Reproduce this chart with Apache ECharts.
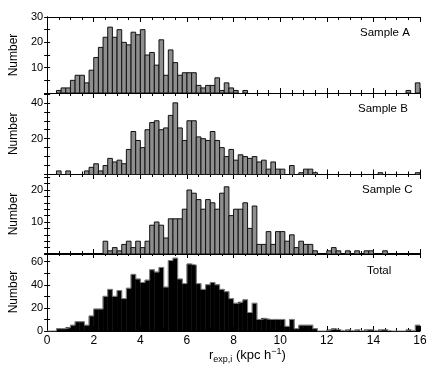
<!DOCTYPE html>
<html>
<head>
<meta charset="utf-8">
<script src="https://cdn.jsdelivr.net/npm/echarts@6/dist/echarts.min.js"></script>
<style>
  html, body { margin: 0; padding: 0; background: #fff; }
  #chart { width: 436px; height: 372px; }
</style>
</head>
<body>
<div id="chart"></div>
<script>
// 80 bins, 0.2 wide, from 0 to 16
var binWidth = 0.2;

var sampleA = [0, 0, 1, 2, 2, 5, 7, 7, 4, 9,
  14, 18, 22, 26, 22, 25, 20, 19, 24, 23,
  25, 15, 16, 11, 21, 7, 17, 12, 7, 8,
  8, 8, 3, 2, 3, 3, 6, 1, 4, 2,
  1, 0, 1, 0, 0, 0, 0, 0, 0, 0,
  0, 0, 0, 0, 0, 0, 0, 0, 0, 0,
  0, 0, 0, 0, 0, 0, 0, 0, 0, 0,
  0, 0, 0, 0, 0, 0, 0, 1, 0, 4];

var sampleB = [0, 0, 2, 0, 2, 0, 0, 0, 2, 4,
  6, 2, 5, 9, 7, 8, 6, 14, 24, 19,
  15, 25, 29, 30, 25, 26, 33, 40, 26, 19,
  30, 30, 21, 20, 19, 24, 19, 15, 10, 14,
  8, 11, 10, 9, 10, 7, 8, 3, 7, 3,
  3, 0, 5, 0, 1, 3, 3, 1, 0, 0,
  0, 0, 0, 0, 0, 0, 0, 0, 0, 0,
  0, 1, 0, 0, 0, 0, 0, 0, 0, 1];

var sampleC = [0, 0, 0, 0, 0, 0, 0, 0, 0, 0,
  0, 0, 4, 1, 2, 1, 3, 4, 2, 4,
  2, 4, 9, 10, 9, 5, 11, 11, 11, 14,
  20, 19, 17, 14, 17, 16, 14, 19, 21, 12,
  14, 14, 16, 8, 15, 3, 3, 7, 3, 7,
  7, 4, 6, 2, 4, 3, 3, 1, 0, 0,
  1, 2, 1, 0, 1, 0, 1, 0, 1, 1,
  0, 0, 1, 0, 0, 0, 0, 0, 0, 0];

var total = [0, 0, 2, 2, 3, 5, 8, 8, 5, 13,
  19, 19, 30, 36, 30, 35, 28, 37, 49, 45,
  42, 44, 53, 51, 55, 38, 61, 63, 45, 41,
  58, 57, 41, 36, 40, 42, 40, 36, 34, 28,
  24, 25, 27, 16, 24, 10, 11, 10, 10, 10,
  10, 4, 10, 2, 5, 5, 5, 2, 0, 0,
  1, 2, 1, 0, 1, 0, 1, 0, 1, 1,
  0, 1, 1, 0, 0, 0, 0, 1, 0, 5];

var xTickLabels = [0, 2, 4, 6, 8, 10, 12, 14, 16];
var yLabelsA = [10, 20, 30];
var yLabelsB = [20, 40];
var yLabelsC = [10, 20];
var yLabelsTotal = [0, 20, 40, 60];

var panels = [
  { title: 'Sample A', values: sampleA, labels: yLabelsA, top: 17, height: 76, max: 30, step: 5, titleX: 360, titleY: 28 },
  { title: 'Sample B', values: sampleB, labels: yLabelsB, top: 93, height: 81.5, max: 45.5, step: 5, titleX: 358, titleY: 104 },
  { title: 'Sample C', values: sampleC, labels: yLabelsC, top: 174, height: 80, max: 25, step: 2, titleX: 362, titleY: 185 },
  { title: 'Total', values: total, labels: yLabelsTotal, top: 253, height: 78, max: 67.5, step: 10, titleX: 367, titleY: 266 }
];

var font = 'Liberation Sans, Arial, Helvetica, sans-serif';

function binData(values) {
  var out = [];
  values.forEach(function (v, i) {
    if (v > 0) out.push([i * binWidth, (i + 1) * binWidth, v]);
  });
  return out;
}

function stepData(values) {
  var out = values.map(function (v, i) { return [i * binWidth, v]; });
  out.push([values.length * binWidth, values[values.length - 1]]);
  return out;
}

function renderBar(params, api) {
  var p0 = api.coord([api.value(0), api.value(2)]);
  var p1 = api.coord([api.value(1), 0]);
  return {
    type: 'rect',
    shape: { x: p0[0], y: p0[1], width: p1[0] - p0[0], height: p1[1] - p0[1] },
    style: api.style()
  };
}

var grids = [], xAxes = [], yAxes = [], series = [], titles = [];

panels.forEach(function (p, i) {
  var last = i === panels.length - 1;
  grids.push({ left: 45, width: 375, top: p.top, height: p.height });

  // bottom and top x axes
  [['bottom', last], ['top', false]].forEach(function (a) {
    xAxes.push({
      type: 'value', gridIndex: i, position: a[0], min: 0, max: 16, interval: 2,
      axisLine: { show: true, onZero: false, lineStyle: { color: '#000', width: 1 } },
      axisTick: { show: true, inside: true, length: 5, lineStyle: { color: '#000' } },
      minorTick: { show: true, splitNumber: 4, length: 3, lineStyle: { color: '#000' } },
      splitLine: { show: false },
      axisLabel: {
        show: a[1], margin: 4, color: '#000', fontSize: 12, fontFamily: font,
        formatter: function (v) { return xTickLabels.indexOf(v) >= 0 ? String(v) : ''; }
      }
    });
  });

  // left and right y axes
  [['left', true], ['right', false]].forEach(function (a) {
    yAxes.push({
      type: 'value', gridIndex: i, position: a[0], min: 0, max: p.max, interval: p.step,
      name: a[1] ? 'Number' : '', nameLocation: 'middle', nameGap: 19,
      nameTextStyle: { color: '#000', fontSize: 12, fontFamily: font },
      axisLine: { show: true, lineStyle: { color: '#000', width: 1 } },
      axisTick: { show: true, inside: true, length: 3, lineStyle: { color: '#000' } },
      splitLine: { show: false },
      axisLabel: {
        show: a[1], margin: 4, color: '#000', fontSize: 11, fontFamily: font,
        showMinLabel: true, showMaxLabel: true,
        formatter: function (v) { return p.labels.indexOf(v) >= 0 ? String(v) : ''; }
      }
    });
  });

  series.push({
    type: 'custom', name: p.title, xAxisIndex: i * 2, yAxisIndex: i * 2,
    renderItem: renderBar, data: binData(p.values), clip: true,
    itemStyle: last
      ? { color: '#000', borderColor: '#000', borderWidth: 0.5 }
      : { color: '#8e8e8e', borderColor: '#111', borderWidth: 1 },
    encode: { x: [0, 1], y: 2 }
  });

  if (last) {
    series.push({
      type: 'line', xAxisIndex: i * 2, yAxisIndex: i * 2, step: 'end',
      data: stepData(p.values), symbol: 'none', silent: true,
      lineStyle: { color: '#808080', width: 1 }
    });
  }

  titles.push({
    text: p.title, left: p.titleX, top: p.titleY - 1, padding: 0,
    textStyle: { color: '#000', fontSize: 11.5, fontWeight: 'normal', fontFamily: font }
  });
});

var chart = echarts.init(document.getElementById('chart'), null, { renderer: 'canvas' });
chart.setOption({
  animation: false,
  backgroundColor: '#fff',
  title: titles,
  grid: grids,
  xAxis: xAxes,
  yAxis: yAxes,
  series: series,
  graphic: [{
    type: 'text', left: 209, top: 347,
    style: {
      text: '{r|r}{sub|exp,i}{n| (kpc h}{sup|−1}{n|)}',
      rich: {
        r: { fontSize: 13, fontFamily: font, fill: '#000', padding: [2, 0, 0, 0] },
        n: { fontSize: 13, fontFamily: font, fill: '#000', padding: [2, 0, 0, 0] },
        sub: { fontSize: 9, fontFamily: font, fill: '#000', padding: [10, 0, 0, 0] },
        sup: { fontSize: 9, fontFamily: font, fill: '#000', padding: [0, 0, 6, 0] }
      }
    }
  }]
});
</script>
</body>
</html>
